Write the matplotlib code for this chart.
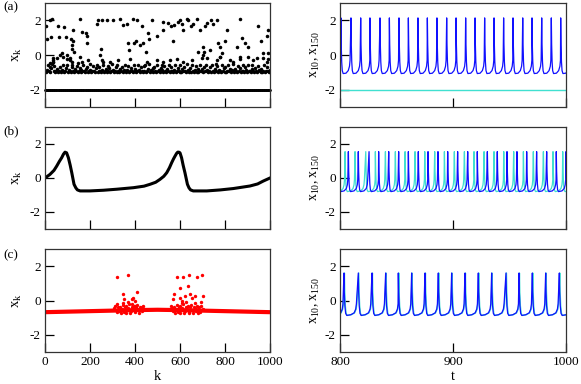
import numpy as np
import matplotlib
matplotlib.use('Agg')
import matplotlib.pyplot as plt

plt.rcParams['font.family'] = 'Liberation Serif'
plt.rcParams['mathtext.fontset'] = 'custom'
plt.rcParams['mathtext.rm'] = 'Liberation Serif'
plt.rcParams['axes.unicode_minus'] = False
plt.rcParams['font.size'] = 9

# ---------------- panel (a): snapshot x_k ----------------
k_rest_step = 3                       # nodes sitting at the rest value
xa_rest = -2.0
ka_cluster_start, ka_cluster_step = 2, 4
xa_cluster = [
    -0.95, -1.0, -0.85, -0.6, -0.9, -1.0, -0.75, -0.5, -0.4, -0.95,
    -0.65, -1.0, -0.9, -0.8, -1.0, -0.95, -0.7, -1.0, -0.85, -0.55,
    -0.9, -1.0, -0.95, -0.75, -0.6, -1.0, -0.85, -0.95, -1.0, -0.7,
    -0.55, -0.95, -1.0, -0.8, -0.9, -0.65, -1.0, -0.95, -0.75, -0.85,
    -1.0, -0.9, -0.6, -0.95, -1.0, -0.8, -0.7, -1.0, -0.9, -0.5,
    -0.85, -1.0, -0.95, -0.65, -0.9, -1.0, -0.75, -0.55, -1.0, -0.9,
    -0.7, -0.95, -1.0, -0.85, -0.6, -1.0, -0.9, -0.8, -1.0, -0.65,
    -0.95, -0.75, -1.0, -0.9, -0.5, -0.85, -1.0, -0.95, -0.7, -1.0,
    -0.6, -0.9, -1.0, -0.8, -0.95, -0.7, -1.0, -0.85, -0.55, -0.95,
    -1.0, -0.85, -0.65, -1.0, -0.9, -0.75, -0.95, -1.0, -0.6, -0.9,
    -0.8, -1.0, -0.95, -0.55, -0.85, -1.0, -0.7, -0.9, -1.0, -0.65,
    -0.9, -0.6, -1.0, -0.95, -0.8, -0.5, -1.0, -0.85, -0.95, -0.75,
    -1.0, -0.7, -0.9, -1.0, -0.6, -0.95, -0.85, -1.0, -0.75, -0.55,
    -0.85, -1.0, -0.65, -0.95, -1.0, -0.8, -0.9, -0.6, -1.0, -0.95,
    -0.7, -0.9, -1.0, -0.85, -0.55, -1.0, -0.95, -0.75, -0.9, -1.0,
    -0.6, -1.0, -0.8, -0.95, -0.7, -0.9, -1.0, -0.5, -0.85, -1.0,
    -0.95, -0.75, -1.0, -0.6, -0.9, -1.0, -0.85, -0.65, -1.0, -0.8,
    -1.0, -0.9, -0.55, -0.95, -0.8, -1.0, -0.7, -0.95, -0.6, -0.9,
    -0.85, -1.0, -0.95, -0.7, -1.0, -0.6, -0.9, -1.0, -0.8, -0.5,
    -0.95, -0.65, -1.0, -0.85, -0.9, -1.0, -0.55, -0.95, -0.75, -1.0,
    -0.7, -1.0, -0.9, -0.6, -0.95, -0.8, -1.0, -0.85, -0.5, -0.95,
    -1.0, -0.8, -0.95, -1.0, -0.65, -0.9, -0.75, -1.0, -0.95, -0.6,
    -0.9, -1.0, -0.7, -0.85, -1.0, -0.55, -0.95, -0.9, -1.0, -0.8,
    -0.6, -0.95, -1.0, -0.75, -0.9, -1.0, -0.65, -0.85, -0.95, -1.0,
    -0.8, -1.0, -0.9, -0.55, -1.0, -0.95, -0.7, -0.9, -1.0, -0.85,
]
ka_scatter = [4, 22, 30, 7, 25, 59, 64, 84, 92, 123, 116, 126, 121, 130, 118,
              156, 163, 182, 185, 188, 237, 230, 252, 274, 249, 304, 333, 348,
              363, 370, 375, 393, 407, 430, 396, 404, 422, 437, 459, 462, 474,
              449, 496, 523, 526, 548, 559, 570, 575, 593, 600, 607, 612, 630,
              637, 647, 659, 674, 689, 681, 707, 711, 719, 733, 704, 736, 748,
              763, 770, 778, 778, 807, 800, 852, 867, 874, 889, 904, 948, 960,
              970, 985, 993, 993, 941, 867, 785, 156, 74, 96, 111, 37, 37, 22,
              22, 37, 52, 67, 81, 96, 111, 119, 148, 163, 193, 244, 252, 259,
              289, 326, 378, 452, 496, 526, 556, 585, 615, 652, 696, 704, 721,
              763, 778, 822, 837, 867, 904, 926, 970, 985, 993]
xa_scatter = [1.65, 2.0, 2.08, 0.9, 1.03, 1.65, 1.03, 1.6, 1.03, 1.46, 0.9, 0.78,
              0.33, 0.2, 0.58, 2.1, 1.32, 1.26, 1.07, 0.68, 2.04, 1.79, 2.04,
              2.0, 0.33, 2.0, 2.08, 1.75, 1.8, 0.68, 0.29, 2.08, 2.0, 1.65, 0.68,
              0.78, 0.58, 0.72, 1.26, 0.9, 2.04, 0.16, 1.07, 1.88, 1.46, 1.84,
              1.65, 0.78, 1.75, 1.88, 2.0, 1.8, 1.46, 2.1, 2.04, 1.65, 1.8, 2.1,
              1.46, 0.2, 0.2, 1.65, 1.84, 0.29, 0.49, 2.04, 1.8, 2.04, 0.68,
              0.49, -0.1, 1.46, 0.78, 0.49, 2.1, 0.97, 0.68, 0.49, 1.65, 0.78,
              0.1, 1.07, 1.46, 0.1, -0.2, -0.1, 0.1, -0.1, 0.1, 0.0, -0.2, -0.2,
              -0.4, -0.7, -0.49, -0.29, -0.19, 0.0, -0.1, -0.25, -0.29, -0.39,
              -0.49, -0.39, -0.29, 0.0, -0.29, -0.39, -0.39, -0.29, -0.25,
              -0.39, -0.29, -0.39, -0.29, -0.25, -0.39, -0.29, -0.19, 0.0,
              -0.19, -0.29, -0.1, -0.29, -0.39, -0.25, -0.14, -0.29, -0.19,
              -0.39, -0.25]

# ---------------- panel (b): smooth profile ----------------
kb = [0, 22, 40, 52, 64, 74, 82, 89, 96, 104, 112, 119, 129, 137, 144, 156,
      200, 260, 319, 393, 440, 467, 492, 511, 528, 541, 553, 563, 571, 578,
      585, 590, 595, 600, 607, 614, 622, 633, 640, 647, 659, 719, 780, 837,
      911, 945, 970, 1000]
xb = [0.0, 0.21, 0.45, 0.7, 0.98, 1.19, 1.4, 1.52, 1.48, 1.19, 0.75, 0.31,
      -0.37, -0.58, -0.7, -0.76, -0.76, -0.72, -0.66, -0.57, -0.48, -0.37,
      -0.25, -0.08, 0.1, 0.31, 0.6, 0.9, 1.12, 1.29, 1.45, 1.52, 1.52, 1.48,
      1.19, 0.75, 0.31, -0.37, -0.58, -0.7, -0.76, -0.76, -0.7, -0.62, -0.47,
      -0.35, -0.18, 0.0]

# ---------------- panel (c): chimera-like snapshot ----------------
kc_band = [0, 100, 200, 300, 400, 500, 600, 700, 800, 900, 1000]
xc_band = [-0.68, -0.65, -0.62, -0.59, -0.56, -0.54, -0.56, -0.59, -0.62, -0.65, -0.68]
kc_scatter = [321, 367, 345, 407, 393, 400, 385, 351,
              588, 612, 640, 674, 699, 634, 600, 575, 570, 601, 607, 644, 652,
              667, 701, 695, 622,
              305, 310, 315, 320, 325, 330, 335, 340, 345, 350, 355, 360, 365,
              370, 375, 380, 385, 390, 395, 400, 405, 410, 415, 420, 425, 430,
              435, 440, 318, 338, 358, 378, 398, 418, 432, 348, 368, 388,
              560, 565, 570, 575, 580, 585, 590, 595, 600, 605, 610, 615, 620,
              625, 630, 635, 640, 645, 650, 655, 660, 665, 670, 675, 680, 685,
              690, 695, 700, 578, 598, 618, 638, 658, 678, 608, 628, 668]
xc_scatter = [1.36, 1.46, 0.39, 0.52, 0.14, 0.0, 0.1, 0.06,
              1.36, 1.36, 1.46, 1.36, 1.46, 0.87, 0.72, 0.39, 0.1, 0.14, 0.0,
              0.39, 0.14, 0.29, 0.29, -0.06, 0.29,
              -0.45, -0.3, -0.55, -0.2, -0.4, -0.6, -0.35, -0.5, -0.25, -0.65,
              -0.4, -0.3, -0.55, -0.45, -0.2, -0.6, -0.35, -0.5, -0.3, -0.65,
              -0.4, -0.25, -0.55, -0.35, -0.45, -0.6, -0.3, -0.5, -0.65, -0.7,
              -0.7, -0.7, -0.3, -0.7, -0.4, -0.15, -0.1, -0.2,
              -0.3, -0.45, -0.6, -0.35, -0.5, -0.25, -0.65, -0.4, -0.3, -0.55,
              -0.45, -0.2, -0.6, -0.35, -0.5, -0.3, -0.65, -0.4, -0.25, -0.55,
              -0.35, -0.45, -0.6, -0.3, -0.5, -0.4, -0.65, -0.3, -0.5, -0.7,
              -0.7, -0.7, -0.7, -0.7, -0.7, -0.15, -0.1, -0.15]

# ---------------- right column: time traces x_10, x_150 ----------------
top_blue_spikes = [792.3, 800.8, 809.7, 818.3, 826.5, 835.4, 843.7, 852.2, 860.5,
                   869.0, 877.3, 885.8, 894.4, 902.7, 911.2, 919.5, 928.0, 936.3,
                   944.8, 953.1, 961.7, 969.9, 978.5, 987.0, 995.3]
top_shape_dt = [0, 0.3, 0.7, 1.2, 2.0, 4.5, 6.5, 7.6, 8.1]
top_shape_x = [2.14, 0.6, -0.4, -0.9, -1.07, -1.05, -0.9, -0.65, -0.3]
top_cyan_t = [800, 1000]
top_cyan_x = [-2.0, -2.0]

mid_blue_spikes = [798.6, 807.4, 816.2, 825.7, 834.2, 843.1, 851.9, 860.5, 869.3,
                   877.9, 886.7, 895.3, 904.1, 913.0, 921.5, 930.4, 939.2, 947.8,
                   956.6, 965.2, 974.0, 982.9, 991.4, 1000.0]
mid_cyan_spikes = [795.7, 804.5, 813.3, 822.8, 831.3, 840.2, 849.0, 857.6, 866.4,
                   875.0, 883.8, 892.4, 901.2, 910.1, 918.6, 927.5, 936.3, 944.9,
                   953.7, 962.3, 971.1, 980.0, 988.5, 997.1]
mid_shape_dt = [0, 0.3, 0.7, 1.2, 2.0, 5.0, 7.0, 7.9, 8.3]
mid_shape_x = [1.55, 0.4, -0.35, -0.7, -0.8, -0.76, -0.62, -0.4, -0.1]

bot_blue_spikes = [791.6, 803.5, 816.2, 828.3, 840.4, 851.6, 863.4, 875.2, 887.0,
                   898.8, 910.6, 922.4, 934.2, 946.9, 958.4, 970.2, 982.0, 994.1]
bot_cyan_spikes = [792.0, 803.9, 816.6, 828.7, 840.8, 852.0, 863.8, 875.6, 887.4,
                   899.2, 911.0, 922.8, 934.6, 947.3, 958.8, 970.6, 982.4, 994.5]
bot_shape_dt = [0, 0.3, 0.8, 1.5, 2.5, 6.0, 9.0, 10.4, 11.0]
bot_shape_x = [1.6, 0.5, -0.3, -0.75, -0.87, -0.83, -0.72, -0.5, -0.2]


def spike_train(spikes, dts, xs):
    t, x = [], []
    for s in spikes:
        t.extend(s + np.asarray(dts))
        x.extend(xs)
    return t, x


blue = '#1010ff'
cyan = '#40e0d0'

fig = plt.figure(figsize=(5.81, 3.84), dpi=100)
W, H = 581.0, 384.0
rows = [(3, 107), (127, 229), (249, 352)]   # pixel top/bottom of each row
cols = [(45, 270), (340, 566)]
axs = []
for (top, bot) in rows:
    line = []
    for (l, r) in cols:
        ax = fig.add_axes([l / W, 1 - bot / H, (r - l) / W, (bot - top) / H])
        line.append(ax)
    axs.append(line)

for i in range(3):
    axL, axR = axs[i]
    axL.set_xlim(0, 1000)
    axR.set_xlim(800, 1000)
    for ax in (axL, axR):
        ax.set_ylim(-3, 3)
        ax.set_yticks([-2, 0, 2])
        ax.tick_params(direction='in', length=6.5, width=0.9, top=False,
                       right=False, labelsize=9.5, pad=3)
        for sp in ax.spines.values():
            sp.set_linewidth(0.9)
            sp.set_color('#333333')
    axL.set_xticks([0, 200, 400, 600, 800, 1000])
    axR.set_xticks([800, 900, 1000])
    axL.set_ylabel(r'$\mathregular{x_k}$', fontsize=10.5, labelpad=4)
    axR.set_ylabel(r'$\mathregular{x_{10},x_{150}}$', fontsize=10, labelpad=2)
    if i < 2:
        axL.set_xticklabels([])
        axR.set_xticklabels([])

# (a)
axa = axs[0][0]
ka_rest = np.arange(0, 1001, k_rest_step)
axa.scatter(ka_rest, np.full(len(ka_rest), xa_rest), s=4, color='black',
            linewidths=0, clip_on=False)
ka_cluster = ka_cluster_start + ka_cluster_step * np.arange(len(xa_cluster))
axa.scatter(ka_cluster, xa_cluster, s=6.5, color='black', linewidths=0)
axa.scatter(ka_scatter, xa_scatter, s=6.5, color='black', linewidths=0)

# (b)
axs[1][0].plot(kb, xb, color='black', lw=2.2)

# (c)
axc = axs[2][0]
axc.plot(kc_band, xc_band, color='red', lw=3.0, solid_capstyle='butt')
axc.scatter(kc_scatter, xc_scatter, s=6, color='red', linewidths=0)

# right column
axs[0][1].plot(top_cyan_t, top_cyan_x, color=cyan, lw=1.0)
t, x = spike_train(top_blue_spikes, top_shape_dt, top_shape_x)
axs[0][1].plot(t, x, color=blue, lw=0.9)

t, x = spike_train(mid_cyan_spikes, mid_shape_dt, mid_shape_x)
axs[1][1].plot(t, x, color=cyan, lw=0.9)
t, x = spike_train(mid_blue_spikes, mid_shape_dt, mid_shape_x)
axs[1][1].plot(t, x, color=blue, lw=0.9)

t, x = spike_train(bot_cyan_spikes, bot_shape_dt, bot_shape_x)
axs[2][1].plot(t, x, color=cyan, lw=1.0)
t, x = spike_train(bot_blue_spikes, bot_shape_dt, bot_shape_x)
axs[2][1].plot(t, x, color=blue, lw=0.9)

axs[2][0].set_xlabel('k', fontsize=10.5, labelpad=1)
axs[2][1].set_xlabel('t', fontsize=10.5, labelpad=1)

for lab, top in zip(['(a)', '(b)', '(c)'], [7, 131, 255]):
    fig.text(3 / W, 1 - top / H, lab, fontsize=9.5, va='center', ha='left')

fig.savefig('out.png', dpi=100)
